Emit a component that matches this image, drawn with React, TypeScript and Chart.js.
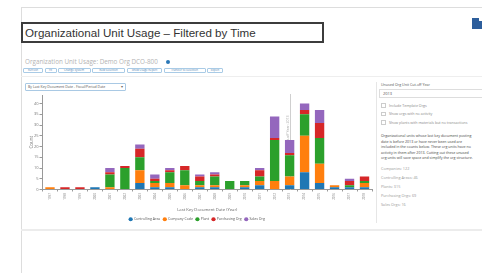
import React, { useEffect, useRef } from "react";
import { Chart, registerables } from "chart.js";

Chart.register(...registerables);

const years = [
  "1997", "1998", "1999", "2000", "2001", "2002", "2003", "2004", "2005", "2006", "2007",
  "2008", "2009", "2010", "2011", "2012", "2013", "2014", "2015", "2016", "2017", "2018",
];
const controllingArea = [0, 0, 0, 1, 0, 0, 3, 1, 1, 0, 1, 1, 0, 1, 2, 0, 2, 8, 3, 1, 1, 1];
const companyCode = [1, 0, 0, 0, 1, 0, 6, 2, 2, 2, 1, 1, 0, 1, 2, 4, 4, 17, 9, 1, 0, 2];
const plant = [0, 0, 0, 0, 6, 10, 6, 1, 5, 7, 2, 4, 4, 2, 2, 19, 10, 10, 12, 0, 1, 1];
const purchasingOrg = [0, 1, 1, 0, 1, 1, 4, 1, 1, 2, 2, 1, 0, 0, 3, 1, 1, 2, 7, 0, 2, 2];
const salesOrg = [0, 0, 0, 0, 2, 0, 2, 2, 1, 0, 1, 1, 0, 0, 1, 10, 6, 3, 6, 0, 1, 0];

const seriesNames = ["Controlling Area", "Company Code", "Plant", "Purchasing Org", "Sales Org"];
const seriesColors = ["#1f77b4", "#ff7f0e", "#2ca02c", "#d62728", "#9467bd"];
const seriesValues = [controllingArea, companyCode, plant, purchasingOrg, salesOrg];

const yMax = 44;
const yStep = 5;
const cutoffYear = "2013";
const cutoffLabel = "Cut-off Year: 2013";

const titleText = "Organizational Unit Usage \u2013 Filtered by Time";
const subtitleText = "Organization Unit Usage: Demo Org DCO-800";
const buttonLabels = ["Refresh", "Fit", "Change System", "New Selection", "Show Usage Report", "Transfer to Selection", "Export"];
const dropdownText = "By Last Key Document Date - Fiscal/Period Date";
const checkboxLabels = ["Include Template Orgs", "Show orgs with no activity", "Show plants with materials but no transactions"];
const paragraphLines = [
  "Organizational units whose last key document posting",
  "date is before 2013 or have never been used are",
  "included in the counts below. These org units have no",
  "activity in them after 2013. Cutting out these unused",
  "org units will save space and simplify the org structure.",
];
const orgCounts = ["Companies: 122", "Controlling Areas: 46", "Plants: 315", "Purchasing Orgs: 69", "Sales Orgs: 16"];

const FONT = "'Open Sans', 'DejaVu Sans', sans-serif";

const cutoffPlugin = {
  id: "cutoffLine",
  beforeDatasetsDraw(chart: any) {
    const { ctx, chartArea, scales } = chart;
    const idx = years.indexOf(cutoffYear);
    if (idx < 0) return;
    const x = Math.round(scales.x.getPixelForValue(idx)) + 0.5;
    ctx.save();
    ctx.strokeStyle = "#cfcfcf";
    ctx.lineWidth = 1;
    ctx.beginPath();
    ctx.moveTo(x, chartArea.top - 1);
    ctx.lineTo(x, chartArea.bottom);
    ctx.stroke();
    ctx.translate(x - 2.5, chartArea.top + 35);
    ctx.rotate(-Math.PI / 2);
    ctx.font = "3.5px " + FONT;
    ctx.fillStyle = "#aaaaaa";
    ctx.textAlign = "center";
    ctx.textBaseline = "middle";
    ctx.fillText(cutoffLabel, 0, 0);
    ctx.restore();
  },
};

function Txt(props: { x: number; y: number; size: number; color: string; children: any; style?: any }) {
  const lh = props.size * 1.4;
  return (
    <div
      style={{
        position: "absolute",
        left: props.x,
        top: props.y - lh / 2,
        fontSize: props.size,
        lineHeight: lh + "px",
        color: props.color,
        whiteSpace: "nowrap",
        fontFamily: FONT,
        ...(props.style || {}),
      }}
    >
      {props.children}
    </div>
  );
}

function Rect(props: { x: number; y: number; w: number; h: number; bg: string; style?: any }) {
  return (
    <div
      style={{
        position: "absolute",
        left: props.x,
        top: props.y,
        width: props.w,
        height: props.h,
        background: props.bg,
        ...(props.style || {}),
      }}
    />
  );
}

const buttonBoxes = [
  [23, 20],
  [44.5, 12],
  [57.5, 33],
  [92, 33],
  [127, 35],
  [163.5, 42],
  [207, 16],
];

export default function App() {
  const canvasRef = useRef<HTMLCanvasElement | null>(null);

  useEffect(() => {
    if (!canvasRef.current) return;
    Chart.defaults.font.family = FONT;
    const chart = new Chart(canvasRef.current, {
      type: "bar",
      data: {
        labels: years,
        datasets: seriesNames.map((name, i) => ({
          label: name,
          data: seriesValues[i],
          backgroundColor: seriesColors[i],
          borderWidth: 0,
          categoryPercentage: 0.8,
          barPercentage: 0.78,
        })),
      },
      options: {
        animation: false,
        responsive: false,
        maintainAspectRatio: false,
        devicePixelRatio: 1,
        layout: { padding: { top: 5, right: 2, left: 0, bottom: 0 } },
        scales: {
          x: {
            stacked: true,
            grid: { display: true, drawOnChartArea: false, tickLength: 2, color: "#999" },
            border: { color: "#999" },
            ticks: {
              font: { size: 3 },
              color: "#888",
              minRotation: 90,
              maxRotation: 90,
              padding: 1.5,
              autoSkip: false,
            },
            title: {
              display: true,
              text: "Last Key Document Date (Year)",
              font: { size: 4.2 },
              color: "#666",
              padding: { top: 0, bottom: 2.5 },
            },
            afterFit: (s: any) => {
              s.height = 25;
            },
          },
          y: {
            stacked: true,
            min: 0,
            max: yMax,
            grid: { display: true, drawOnChartArea: false, tickLength: 3, color: "#999" },
            border: { color: "#999" },
            ticks: { stepSize: yStep, includeBounds: false, font: { size: 4 }, color: "#777", padding: 1 },
            title: {
              display: true,
              text: "Count",
              font: { size: 4.5 },
              color: "#777",
              padding: { top: 7.3, bottom: 0 },
            },
            afterFit: (s: any) => {
              s.width = 20.5;
            },
          },
        },
        plugins: {
          legend: {
            position: "bottom",
            labels: {
              usePointStyle: true,
              pointStyle: "circle",
              boxWidth: 3,
              boxHeight: 3,
              padding: 3,
              font: { size: 3.5 },
              color: "#555",
            },
          },
          tooltip: { enabled: false },
        },
      } as any,
      plugins: [cutoffPlugin],
    });
    return () => chart.destroy();
  }, []);

  return (
    <div
      style={{
        position: "absolute",
        left: 0,
        top: 0,
        width: 482,
        height: 273,
        overflow: "hidden",
        background: "#ffffff",
        fontFamily: FONT,
      }}
    >
      {/* panel borders */}
      <Rect x={21} y={7} w={461} h={1} bg="#dddddd" />
      <Rect x={21} y={7} w={1} h={266} bg="#dddddd" />
      <Rect x={21} y={76} w={461} h={1} bg="#eeeeee" />
      <Rect x={21} y={229} w={461} h={2} bg="#ececec" />

      {/* title box */}
      <div
        style={{
          position: "absolute",
          left: 21,
          top: 22,
          width: 303,
          height: 21,
          boxSizing: "border-box",
          border: "2px solid #3c3c3c",
          fontFamily: "'Liberation Sans', Arial, sans-serif",
          fontSize: 11.6,
          lineHeight: "17px",
          color: "#333",
          paddingLeft: 2,
          whiteSpace: "nowrap",
        }}
      >
        {titleText}
      </div>

      {/* top-right icon */}
      <Rect x={472} y={18} w={10} h={11} bg="#2d5e9c" />
      <Rect x={479} y={18} w={3} h={3} bg="#ffffff" />

      {/* subtitle */}
      <Txt x={25} y={62} size={6.3} color="#b3b3b3">
        {subtitleText}
      </Txt>
      <div
        style={{
          position: "absolute",
          left: 166,
          top: 60,
          width: 4,
          height: 4,
          borderRadius: 2,
          background: "#2a78b8",
        }}
      />

      {/* button row */}
      {buttonLabels.map((b, i) => (
        <div
          key={b}
          style={{
            position: "absolute",
            left: buttonBoxes[i][0],
            top: 68,
            width: buttonBoxes[i][1],
            height: 5,
            boxSizing: "border-box",
            border: "1px solid #a9cbe6",
            borderRadius: 1,
            fontSize: 2.8,
            lineHeight: "3px",
            color: "#4b7fb3",
            textAlign: "center",
            whiteSpace: "nowrap",
            overflow: "hidden",
            fontFamily: FONT,
          }}
        >
          {b}
        </div>
      ))}

      {/* dropdown */}
      <div
        style={{
          position: "absolute",
          left: 25,
          top: 83,
          width: 101,
          height: 8,
          boxSizing: "border-box",
          border: "1px solid #a9c9e4",
          borderRadius: 1,
          fontSize: 3.5,
          lineHeight: "6px",
          color: "#555",
          paddingLeft: 2,
          whiteSpace: "nowrap",
          fontFamily: FONT,
        }}
      >
        {dropdownText}
        <span style={{ position: "absolute", right: 2, top: 0, fontSize: 4, color: "#666" }}>{"\u25BE"}</span>
      </div>

      {/* chart */}
      <canvas
        ref={canvasRef}
        width={352}
        height={141}
        style={{ position: "absolute", left: 22, top: 90, width: 352, height: 141 }}
      />

      {/* right panel */}
      <Rect x={376} y={82} w={1} h={141} bg="#e6e6e6" />
      <Txt x={381} y={85} size={3.6} color="#555">
        Unused Org Unit Cut-off Year
      </Txt>
      <div
        style={{
          position: "absolute",
          left: 379,
          top: 89,
          width: 110,
          height: 9,
          boxSizing: "border-box",
          border: "1px solid #dddddd",
          fontSize: 4,
          lineHeight: "7px",
          color: "#555",
          paddingLeft: 3,
          fontFamily: FONT,
        }}
      >
        {cutoffYear}
      </div>
      {checkboxLabels.map((c, i) => (
        <React.Fragment key={c}>
          <div
            style={{
              position: "absolute",
              left: 381,
              top: 103 + i * 8.5,
              width: 4.5,
              height: 4.5,
              boxSizing: "border-box",
              border: "1px solid #cccccc",
              background: "#fff",
            }}
          />
          <Txt x={389} y={105.3 + i * 8.5} size={3.6} color="#888">
            {c}
          </Txt>
        </React.Fragment>
      ))}
      {paragraphLines.map((l, i) => (
        <Txt key={l} x={381} y={135.7 + i * 5.5} size={3.6} color="#444">
          {l}
        </Txt>
      ))}
      {orgCounts.map((l, i) => (
        <Txt key={l} x={381} y={169 + i * 9} size={3.8} color="#999">
          {l}
        </Txt>
      ))}
    </div>
  );
}
